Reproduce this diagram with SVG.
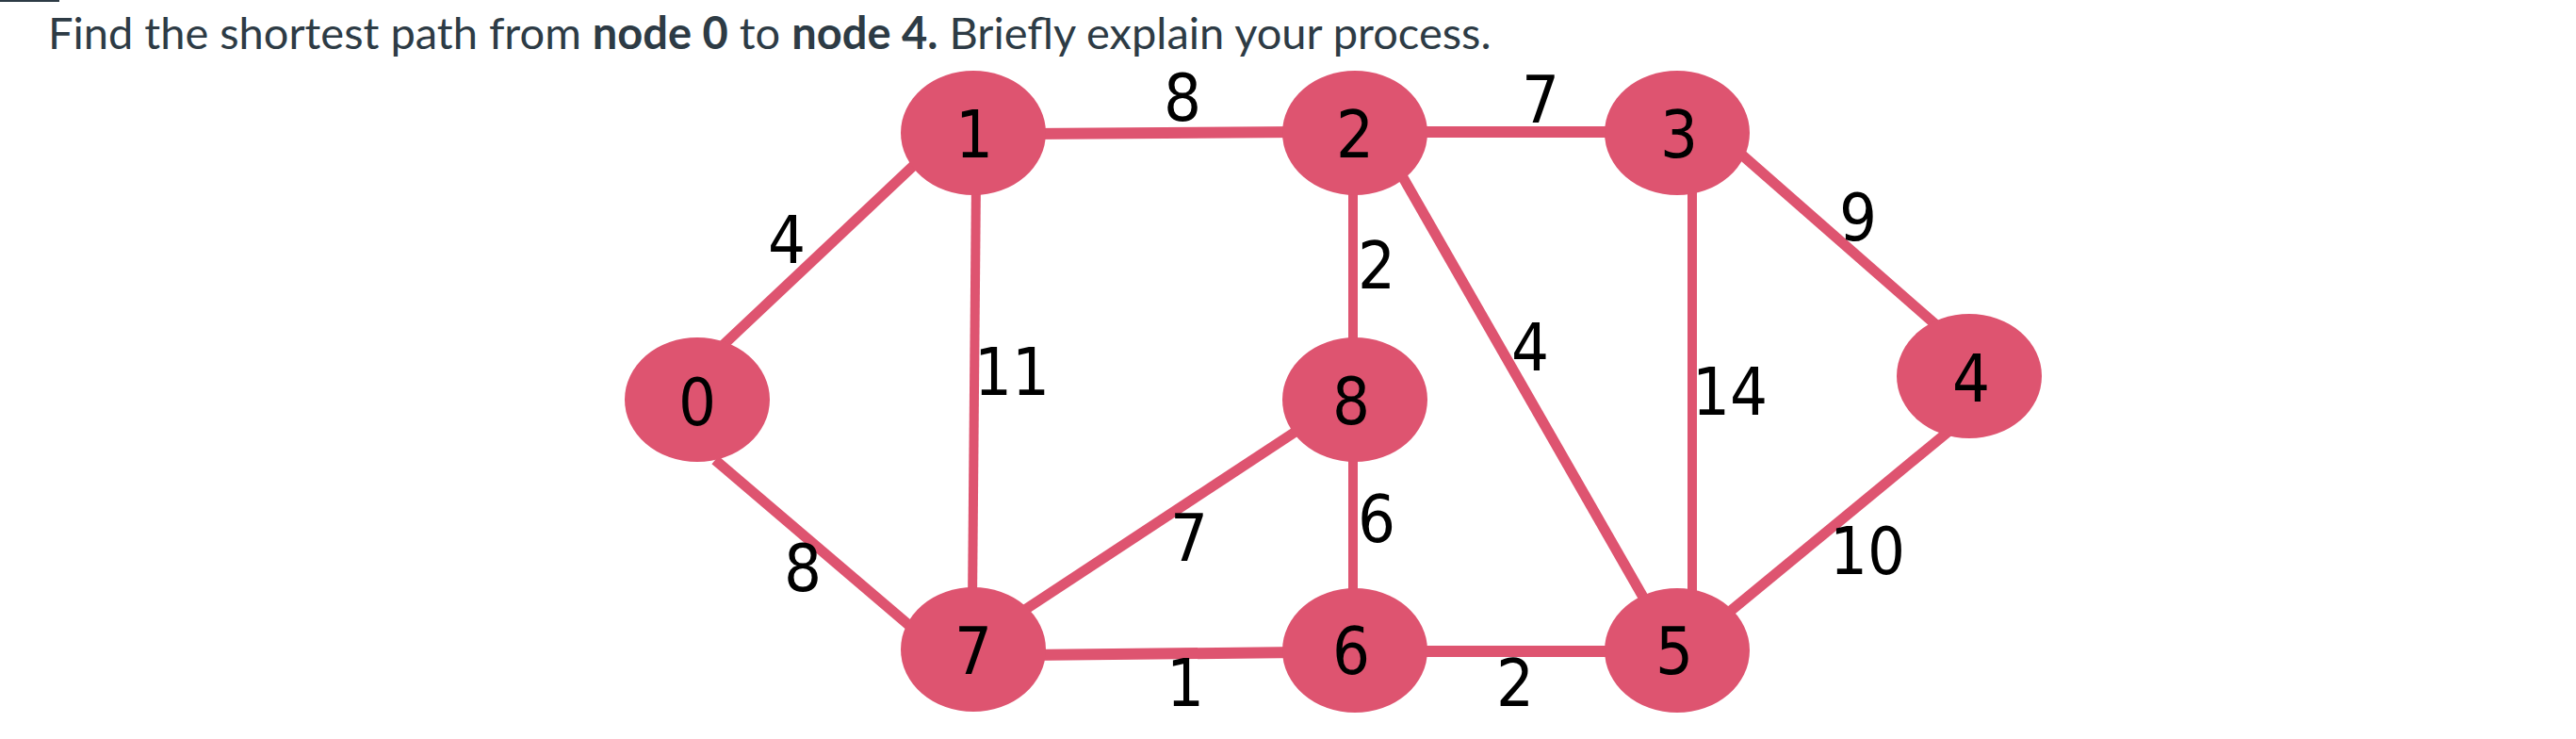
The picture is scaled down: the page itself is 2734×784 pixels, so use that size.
<svg xmlns="http://www.w3.org/2000/svg" width="2734" height="784" viewBox="0 0 2734 784">
<style>
.title{font-family:Lato,"Noto Sans",sans-serif;font-size:47px;fill:#2d3b45}
.b{font-weight:bold}
.edge{stroke:#de5470;stroke-width:11;stroke-linecap:butt;fill:none}
.v{stroke-width:10}
.h{stroke-width:12}
.node ellipse{fill:#de5470}
.nl{font-family:"DejaVu Sans Condensed","DejaVu Sans",sans-serif;font-size:70px;fill:#000;text-anchor:middle}
.el{font-family:"DejaVu Sans Condensed","DejaVu Sans",sans-serif;font-size:70px;fill:#000;text-anchor:middle}
</style>
<rect x="0" y="0" width="63" height="2" fill="#2d3b45"/>
<text class="title" x="51" y="52">Find the shortest path from <tspan class="b">node 0</tspan> to <tspan class="b">node 4.</tspan> Briefly explain your process.</text>
<g id="connectors">
<line class="edge" x1="757" y1="376" x2="983" y2="163"/>
<line class="edge" x1="759" y1="488" x2="975" y2="672"/>
<line class="edge h" x1="1090" y1="142" x2="1380" y2="140"/>
<line class="edge v" x1="1036" y1="190" x2="1032" y2="640"/>
<line class="edge h" x1="1500" y1="140" x2="1720" y2="140"/>
<line class="edge v" x1="1436" y1="190" x2="1436" y2="380"/>
<line class="edge" x1="1482" y1="176" x2="1750" y2="644"/>
<line class="edge v" x1="1796" y1="190" x2="1796" y2="640"/>
<line class="edge" x1="1845" y1="161" x2="2062" y2="351"/>
<line class="edge" x1="1384" y1="452" x2="1080" y2="652"/>
<line class="edge v" x1="1436" y1="470" x2="1436" y2="640"/>
<line class="edge h" x1="1090" y1="695" x2="1380" y2="692"/>
<line class="edge h" x1="1500" y1="691" x2="1720" y2="691"/>
<line class="edge" x1="1832" y1="652" x2="2075" y2="452"/>
</g>
<g id="edge-labels">
<text class="el" x="835" y="279">4</text>
<text class="el" x="1255" y="128">8</text>
<text class="el" x="1074" y="419">11</text>
<text class="el" x="852" y="627">8</text>
<text class="el" x="1262" y="595">7</text>
<text class="el" x="1258" y="749">1</text>
<text class="el" x="1635" y="130">7</text>
<text class="el" x="1461" y="306">2</text>
<text class="el" x="1624" y="393">4</text>
<text class="el" x="1836" y="440">14</text>
<text class="el" x="1972" y="255">9</text>
<text class="el" x="1461" y="575">6</text>
<text class="el" x="1608" y="749">2</text>
<text class="el" x="1982" y="609">10</text>
</g>
<g id="node0" class="node"><ellipse cx="740" cy="424" rx="77" ry="66"/><text class="nl" x="740" y="451">0</text></g>
<g id="node1" class="node"><ellipse cx="1033" cy="141" rx="77" ry="66"/><text class="nl" x="1034" y="167">1</text></g>
<g id="node2" class="node"><ellipse cx="1438" cy="141" rx="77" ry="66"/><text class="nl" x="1438" y="167">2</text></g>
<g id="node3" class="node"><ellipse cx="1780" cy="141" rx="77" ry="66"/><text class="nl" x="1782" y="167">3</text></g>
<g id="node4" class="node"><ellipse cx="2090" cy="399" rx="77" ry="66"/><text class="nl" x="2092" y="426">4</text></g>
<g id="node5" class="node"><ellipse cx="1780" cy="690" rx="77" ry="66"/><text class="nl" x="1777" y="715">5</text></g>
<g id="node6" class="node"><ellipse cx="1438" cy="690" rx="77" ry="66"/><text class="nl" x="1434" y="715">6</text></g>
<g id="node7" class="node"><ellipse cx="1033" cy="689" rx="77" ry="66"/><text class="nl" x="1033" y="715">7</text></g>
<g id="node8" class="node"><ellipse cx="1438" cy="424" rx="77" ry="66"/><text class="nl" x="1434" y="450">8</text></g>
</svg>
